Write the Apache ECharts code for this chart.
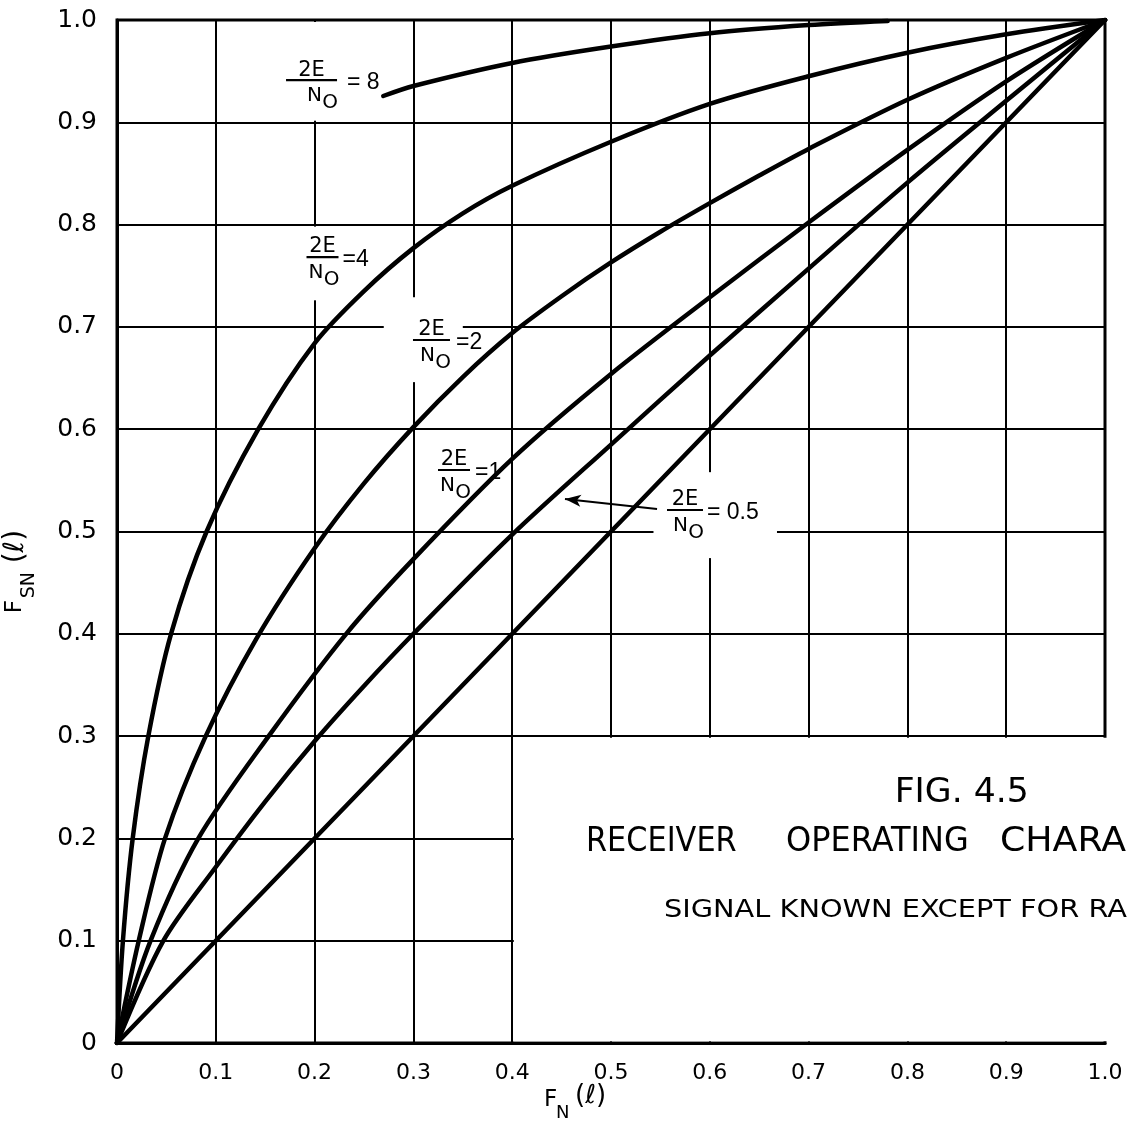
<!DOCTYPE html>
<html><head><meta charset="utf-8">
<script src="https://cdn.jsdelivr.net/npm/echarts@6.0.0/dist/echarts.min.js"></script>
<style>html,body{margin:0;padding:0;background:#fff}#c{width:1127px;height:1129px}</style>
</head><body><div id="c"></div>
<script>
// ---- data: F_N(l) (x) and F_SN(l) (y) for each 2E/N0 ----
const d8FN   = [0.2695, 0.3, 0.4, 0.5, 0.6, 0.7, 0.78];
const d8FSN  = [0.9257, 0.9355, 0.958, 0.974, 0.987, 0.995, 0.999];
const d4FN   = [0, 0.006, 0.0159, 0.0317, 0.0547, 0.0907, 0.143, 0.2, 0.25, 0.3, 0.35, 0.4, 0.5, 0.6, 0.7, 0.8, 0.9, 1.0];
const d4FSN  = [0, 0.1, 0.2, 0.3, 0.4, 0.5, 0.6, 0.684, 0.735, 0.777, 0.811, 0.838, 0.881, 0.918, 0.945, 0.968, 0.986, 1.0];
const d2FN   = [0, 0.022, 0.0486, 0.0898, 0.141, 0.2, 0.25, 0.3, 0.35, 0.4, 0.45, 0.5, 0.55, 0.6, 0.65, 0.7, 0.8, 0.9, 1.0];
const d2FSN  = [0, 0.1, 0.2, 0.3, 0.395, 0.4836, 0.547, 0.602, 0.651, 0.694, 0.73, 0.763, 0.793, 0.821, 0.848, 0.874, 0.922, 0.963, 1.0];
const d1FN   = [0, 0.034, 0.0823, 0.1535, 0.232, 0.3, 0.4, 0.5, 0.6, 0.7, 0.8, 0.9, 1.0];
const d1FSN  = [0, 0.1, 0.2, 0.3, 0.4, 0.473, 0.571, 0.654, 0.729, 0.802, 0.873, 0.940, 1.0];
const d05FN  = [0, 0.047, 0.1, 0.15, 0.2, 0.25, 0.3, 0.4, 0.5, 0.6, 0.7, 0.8, 0.9, 1.0];
const d05FSN = [0, 0.1, 0.172, 0.236, 0.295, 0.349, 0.4, 0.497, 0.585, 0.672, 0.757, 0.841, 0.921, 1.0];
const d0FN   = [0, 1];
const d0FSN  = [0, 1];
const curveNames = ['8', '4', '2', '1', '0.5', '0'];

// ---- annotation layout (data coordinates) ----
const fractionLabels = [
  {anchor: [0.1969, 0.9413], bar: 51, rhs: '= 8', gap: 10},
  {anchor: [0.208, 0.7683],  bar: 32, rhs: '=4',  gap: 4},
  {anchor: [0.3183, 0.6872], bar: 37, rhs: '=2',  gap: 6},
  {anchor: [0.3411, 0.5601], bar: 32, rhs: '=1',  gap: 5},
  {anchor: [0.5749, 0.521],  bar: 36, rhs: '= 0.5', gap: 4}
];
const arrowTail = [0.5466, 0.522];
const arrowTip  = [0.4534, 0.5318];
const vGaps = [{x: 0.2, y0: 0.9, y1: 1.0}, {x: 0.2, y0: 0.726, y1: 0.8}, {x: 0.3, y0: 0.646, y1: 0.729}, {x: 0.6, y0: 0.474, y1: 0.558}];
const hGaps = [{y: 0.7, x0: 0.27, x1: 0.35}, {y: 0.5, x0: 0.543, x1: 0.668}];
const blankBox = {x0: 0.4, x1: 1.0, y0: 0, y1: 0.3};
const captionWords = [
  {text: 'FIG. 4.5', at: [0.855, 0.244], size: 33, sx: 1.05, align: 'center'},
  {text: 'RECEIVER', at: [0.4747, 0.1965], size: 33, sx: 0.92, align: 'left'},
  {text: 'OPERATING', at: [0.6771, 0.1965], size: 33, sx: 0.97, align: 'left'},
  {text: 'CHARACTERISTICS', at: [0.8937, 0.1965], size: 33, sx: 1.1, align: 'left'},
  {text: 'SIGNAL KNOWN EXCEPT FOR RANDOM PHASE', at: [0.5536, 0.129], size: 24, sx: 1.2, align: 'left'}
];

const FONT = '"DejaVu Sans", "Liberation Sans", sans-serif';
const FONT2 = '"Liberation Sans", "DejaVu Sans", sans-serif';
const pairs = (xs, ys) => xs.map((x, i) => [x, ys[i]]);
const curves = [[d8FN, d8FSN], [d4FN, d4FSN], [d2FN, d2FSN], [d1FN, d1FSN], [d05FN, d05FSN], [d0FN, d0FSN]];

const chart = echarts.init(document.getElementById('c'), null, {renderer: 'canvas'});
const tickFmt = v => (Math.abs(v) < 1e-9 ? '0' : v.toFixed(1));

const series = curves.map((c, i) => {
  const s = {
    name: curveNames[i], type: 'line', data: pairs(c[0], c[1]),
    showSymbol: false, smooth: 0.3, silent: true, animation: false, z: 3,
    lineStyle: {color: '#000', width: 4.5, cap: 'round', join: 'round'}
  };
  if (curveNames[i] === '0.5') {
    s.markLine = {
      silent: true, animation: false, symbol: ['none', 'arrow'], symbolSize: [9, 16],
      lineStyle: {color: '#000', width: 2, type: 'solid'}, label: {show: false},
      data: [[{coord: arrowTail}, {coord: arrowTip}]]
    };
  }
  return s;
});

chart.setOption({
  animation: false,
  backgroundColor: '#fff',
  grid: {left: 117, top: 20, width: 988, height: 1023, show: true, borderColor: '#000', borderWidth: 3,
         backgroundColor: 'transparent', outerBoundsMode: 'none', containLabel: false},
  xAxis: {type: 'value', min: 0, max: 1, interval: 0.1,
    axisLine: {show: true, lineStyle: {color: '#000', width: 3}}, axisTick: {show: false},
    splitLine: {show: true, lineStyle: {color: '#000', width: 2}},
    axisLabel: {color: '#000', fontSize: 22, fontFamily: FONT, margin: 19, formatter: tickFmt}},
  yAxis: {type: 'value', min: 0, max: 1, interval: 0.1,
    axisLine: {show: true, lineStyle: {color: '#000', width: 3}}, axisTick: {show: false},
    splitLine: {show: true, lineStyle: {color: '#000', width: 2}},
    axisLabel: {color: '#000', fontSize: 25, fontFamily: FONT, margin: 20, formatter: tickFmt}},
  series: series
});

const P = p => chart.convertToPixel({gridIndex: 0}, p);
const onGrid = v => Math.abs(v * 10 - Math.round(v * 10)) < 1e-6;
const g = [];
// covers that open the gaps in the grid
vGaps.forEach(o => {
  const [x, yTop] = P([o.x, o.y1]);
  const [, yBot] = P([o.x, o.y0]);
  const t = yTop + (onGrid(o.y1) ? 2 : 0), b = yBot - (onGrid(o.y0) ? 1.6 : 0);
  g.push({type: 'rect', z: 1, silent: true, shape: {x: x - 3, y: t, width: 6, height: b - t}, style: {fill: '#fff'}});
});
hGaps.forEach(o => {
  const [xl, y] = P([o.x0, o.y]);
  const [xr] = P([o.x1, o.y]);
  const l = xl + (onGrid(o.x0) ? 1.6 : 0), r = xr - (onGrid(o.x1) ? 1.6 : 0);
  g.push({type: 'rect', z: 1, silent: true, shape: {x: l, y: y - 3, width: r - l, height: 6}, style: {fill: '#fff'}});
});
{
  const [l, t] = P([blankBox.x0, blankBox.y1]);
  const [r, b] = P([blankBox.x1, blankBox.y0]);
  g.push({type: 'rect', z: 1, silent: true, shape: {x: l + 1.6, y: t + 1.6, width: r - l + 6, height: b - t - 3.4}, style: {fill: '#fff'}});
}
// fraction labels 2E / N0 = k
const txt = (text, x, y, size, align, valign, fam) => ({type: 'text', z: 10, silent: true,
  style: {text, x, y, font: size + 'px ' + (fam || FONT), fill: '#000', textAlign: align, align: align,
          textVerticalAlign: valign, verticalAlign: valign}});
fractionLabels.forEach(o => {
  const [cx, cy] = P(o.anchor);
  const r = cx + o.bar / 2;
  g.push(txt('2E', cx, cy - 10, 21, 'center', 'middle'));
  g.push({type: 'line', z: 10, silent: true, shape: {x1: cx - o.bar / 2, y1: cy, x2: r, y2: cy}, style: {stroke: '#000', lineWidth: 2.2}});
  g.push(txt('O', r + 1, cy + 23, 20, 'right', 'middle'));
  g.push(txt('N', r - 15, cy + 16, 20, 'right', 'middle'));
  g.push(txt(o.rhs, r + o.gap, cy + 3, 23, 'left', 'middle', FONT2));
});
// axis names
{
  const [x0, y0] = P([0, 0]);
  // x axis: F_N (l)
  g.push(txt('F', x0 + 427, y0 + 57, 23, 'left', 'middle'));
  g.push(txt('N', x0 + 439, y0 + 70, 18, 'left', 'middle'));
  g.push(txt('(ℓ)', x0 + 458, y0 + 53, 26, 'left', 'middle'));
  // y axis: F_SN(l), rotated
  const [, ym] = P([0, 0.42]);
  g.push({type: 'group', x: 27, y: ym, rotation: Math.PI / 2, z: 10, children: [
    {type: 'text', silent: true, style: {text: 'F', x: 0, y: 0, font: '23px ' + FONT, fill: '#000', textVerticalAlign: 'bottom', verticalAlign: 'bottom'}},
    {type: 'text', silent: true, style: {text: 'SN', x: 15, y: 12, font: '19px ' + FONT, fill: '#000', textVerticalAlign: 'bottom', verticalAlign: 'bottom'}},
    {type: 'text', silent: true, style: {text: '(ℓ)', x: 50, y: 3, font: '28px ' + FONT, fill: '#000', textVerticalAlign: 'bottom', verticalAlign: 'bottom'}}
  ]});
}
// figure caption inside the blank box
captionWords.forEach(w => {
  const [x, y] = P(w.at);
  g.push({type: 'text', z: 10, silent: true, x, y, scaleX: w.sx,
    style: {text: w.text, x: 0, y: 0, font: w.size + 'px ' + FONT, fill: '#000', textAlign: w.align, align: w.align,
            textVerticalAlign: 'middle', verticalAlign: 'middle'}});
});
chart.setOption({graphic: g});
</script>
</body></html>
